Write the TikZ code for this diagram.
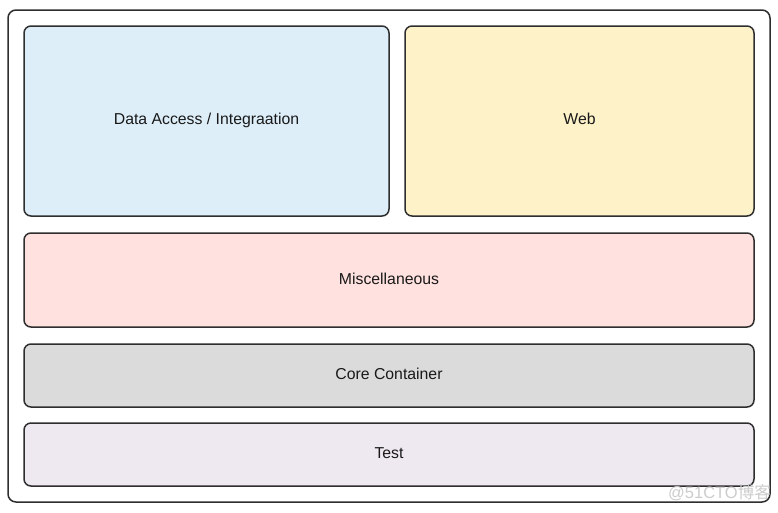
\documentclass[tikz,border=0pt]{standalone}
\usepackage{fontspec}
\setmainfont{Liberation Sans}
\newfontfamily\cjkfont{Noto Sans CJK SC}
\definecolor{daBlue}{HTML}{DDEEF9}
\definecolor{webYel}{HTML}{FEF2C9}
\definecolor{miscPink}{HTML}{FFE1DF}
\definecolor{coreGray}{HTML}{DBDBDB}
\definecolor{testLil}{HTML}{EEE8F1}
\definecolor{edge}{HTML}{2E2E2E}
\begin{document}
\begin{tikzpicture}[x=1pt,y=-1pt,
  layer/.style={draw=edge,line width=1.5pt,rounded corners=7pt},
  lbl/.style={font=\fontsize{15.8}{18}\selectfont,text=black!90}]
\useasboundingbox (0,0) rectangle (778,512);
\fill[white] (0,0) rectangle (778,512);
\draw[draw=edge,line width=1.5pt,rounded corners=8pt] (8,10) rectangle (770,502);
\draw[layer,fill=daBlue] (24,26) rectangle (389,216);
\node[lbl] (da) at (206.5,120.5) {Data Access / Integraation};
\draw[layer,fill=webYel] (405,26) rectangle (754,216);
\node[lbl] (web) at (579.5,119) {Web};
\draw[layer,fill=miscPink] (24,233) rectangle (754,327);
\node[lbl] (misc) at (389,278.5) {Miscellaneous};
\draw[layer,fill=coreGray] (24,344) rectangle (754,407);
\node[lbl] (core) at (389,373.5) {Core Container};
\draw[layer,fill=testLil] (24,423) rectangle (754,486);
\node[lbl] (test) at (389,453) {Test};
\node[font=\fontsize{16.5}{18}\selectfont,text=black!20,anchor=east,inner sep=0pt] (wm) at (771,493) {@51CTO\cjkfont 博客};
\end{tikzpicture}
\end{document}
